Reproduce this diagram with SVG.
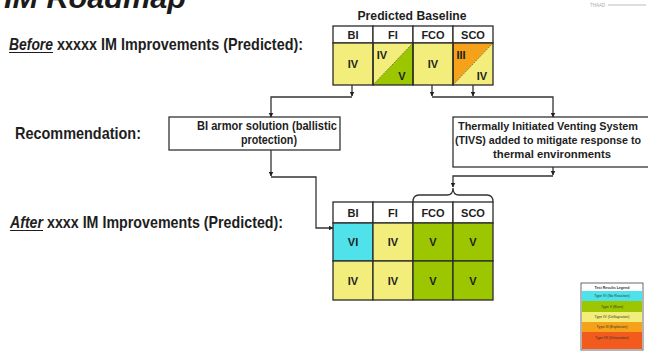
<svg xmlns="http://www.w3.org/2000/svg" width="648" height="354" viewBox="0 0 648 354">
<defs>
<marker id="ah" viewBox="0 0 10 10" refX="9" refY="5" markerWidth="5" markerHeight="5" orient="auto" markerUnits="userSpaceOnUse">
<path d="M0,0 L10,5 L0,10 z" fill="#222"/>
</marker>
<style>
.t{font-family:"Liberation Sans",Arial,sans-serif;font-weight:bold;fill:#1e1e1e}
.lbl{font-size:16.5px}
.c{font-size:11px;text-anchor:middle}
.bx{font-size:12.5px;text-anchor:middle}
.bs{font-size:10.8px;text-anchor:middle}
.cell{stroke:#2a2a2a;stroke-width:1.3}
.hdr{fill:#ffffff}
.y{fill:#F3EE7C}
.g{fill:#9CC700}
.cy{fill:#4FE2EA}
.o{fill:#F5A11A}
.box{fill:#fff;stroke:#333;stroke-width:1.3}
.ln{fill:none;stroke:#333;stroke-width:1.3}
.lg{font-family:"Liberation Sans",Arial,sans-serif;font-size:3.6px;text-anchor:middle;fill:#333}
</style>
</defs>
<rect width="648" height="354" fill="#fff"/>

<text x="4" y="8" font-family="Liberation Sans,Arial,sans-serif" font-size="30" font-weight="bold" font-style="italic" fill="#1a1a1a" textLength="182" lengthAdjust="spacingAndGlyphs">IM Roadmap</text>
<text x="590" y="7" font-family="Liberation Sans,Arial,sans-serif" font-size="4.5" fill="#aaa">THAAD</text>
<rect x="608" y="4" width="38" height="2" fill="#ddd"/>

<g id="label-before">
<text class="t lbl" x="9" y="50" font-style="italic" textLength="44" lengthAdjust="spacingAndGlyphs">Before</text>
<line x1="9" y1="52.5" x2="53" y2="52.5" stroke="#1e1e1e" stroke-width="1.2"/>
<text class="t lbl" x="57" y="50" textLength="246" lengthAdjust="spacingAndGlyphs">xxxxx IM Improvements (Predicted):</text>
</g>
<g id="label-recommendation">
<text class="t lbl" x="15" y="139" textLength="126" lengthAdjust="spacingAndGlyphs">Recommendation:</text>
</g>
<g id="label-after">
<text class="t lbl" x="10" y="228" font-style="italic" textLength="33" lengthAdjust="spacingAndGlyphs">After</text>
<line x1="10" y1="230.5" x2="43" y2="230.5" stroke="#1e1e1e" stroke-width="1.2"/>
<text class="t lbl" x="47" y="228" textLength="236" lengthAdjust="spacingAndGlyphs">xxxx IM Improvements (Predicted):</text>
</g>

<g id="baseline-table">
<text class="t" x="412" y="20" font-size="13.5" text-anchor="middle" textLength="109" lengthAdjust="spacingAndGlyphs">Predicted Baseline</text>
<rect class="cell hdr" x="333" y="26" width="40" height="17"/>
<rect class="cell hdr" x="373" y="26" width="40" height="17"/>
<rect class="cell hdr" x="413" y="26" width="40" height="17"/>
<rect class="cell hdr" x="453" y="26" width="40" height="17"/>
<text class="t c" x="353" y="38.5">BI</text>
<text class="t c" x="393" y="38.5">FI</text>
<text class="t c" x="433" y="38.5">FCO</text>
<text class="t c" x="473" y="38.5">SCO</text>
<rect class="y" x="333" y="43" width="40" height="42"/>
<path class="y" d="M373,43 H413 L373,85 z"/>
<path class="g" d="M413,43 V85 H373 z"/>
<rect class="y" x="413" y="43" width="40" height="42"/>
<path class="o" d="M453,43 H493 L453,85 z"/>
<path class="y" d="M493,43 V85 H453 z"/>
<line x1="373" y1="85" x2="413" y2="43" stroke="#6a6a20" stroke-width="0.8" stroke-dasharray="2,1"/>
<line x1="453" y1="85" x2="493" y2="43" stroke="#6a6a20" stroke-width="0.8" stroke-dasharray="2,1"/>
<rect class="cell" fill="none" x="333" y="43" width="40" height="42"/>
<rect class="cell" fill="none" x="373" y="43" width="40" height="42"/>
<rect class="cell" fill="none" x="413" y="43" width="40" height="42"/>
<rect class="cell" fill="none" x="453" y="43" width="40" height="42"/>
<text class="t c" x="353" y="68">IV</text>
<text class="t c" x="382" y="59">IV</text>
<text class="t c" x="402" y="80">V</text>
<text class="t c" x="433" y="68">IV</text>
<text class="t c" x="461" y="59">III</text>
<text class="t c" x="482" y="80">IV</text>
</g>

<g id="bi-armor">
<rect class="box" x="169" y="117" width="171" height="33"/>
<text class="t bx" x="267" y="130" textLength="140" lengthAdjust="spacingAndGlyphs">BI armor solution (ballistic</text>
<text class="t bx" x="269" y="144" textLength="56" lengthAdjust="spacingAndGlyphs">protection)</text>
</g>

<g id="tivs">
<rect class="box" x="453" y="117" width="197" height="50"/>
<text class="t bs" x="548" y="130" textLength="180" lengthAdjust="spacingAndGlyphs">Thermally Initiated Venting System</text>
<text class="t bs" x="548" y="144" textLength="186" lengthAdjust="spacingAndGlyphs">(TIVS) added to mitigate response to</text>
<text class="t bs" x="552" y="158" textLength="118" lengthAdjust="spacingAndGlyphs">thermal environments</text>
</g>

<g id="after-table">
<rect class="cell hdr" x="333" y="202" width="40" height="21"/>
<rect class="cell hdr" x="373" y="202" width="40" height="21"/>
<rect class="cell hdr" x="413" y="202" width="40" height="21"/>
<rect class="cell hdr" x="453" y="202" width="40" height="21"/>
<text class="t c" x="353" y="217">BI</text>
<text class="t c" x="393" y="217">FI</text>
<text class="t c" x="433" y="217">FCO</text>
<text class="t c" x="473" y="217">SCO</text>
<rect class="cell cy" x="333" y="223" width="40" height="38"/>
<rect class="cell y" x="373" y="223" width="40" height="38"/>
<rect class="cell g" x="413" y="223" width="40" height="38"/>
<rect class="cell g" x="453" y="223" width="40" height="38"/>
<rect class="cell y" x="333" y="261" width="40" height="39"/>
<rect class="cell y" x="373" y="261" width="40" height="39"/>
<rect class="cell g" x="413" y="261" width="40" height="39"/>
<rect class="cell g" x="453" y="261" width="40" height="39"/>
<text class="t c" x="353" y="246">VI</text>
<text class="t c" x="393" y="246">IV</text>
<text class="t c" x="433" y="246">V</text>
<text class="t c" x="473" y="246">V</text>
<text class="t c" x="353" y="285">IV</text>
<text class="t c" x="393" y="285">IV</text>
<text class="t c" x="433" y="285">V</text>
<text class="t c" x="473" y="285">V</text>
</g>

<g id="connectors">
<line class="ln" x1="352" y1="85" x2="352" y2="96" marker-end="url(#ah)"/>
<line class="ln" x1="432" y1="85" x2="432" y2="96" marker-end="url(#ah)"/>
<line class="ln" x1="473" y1="85" x2="473" y2="96" marker-end="url(#ah)"/>
<polyline class="ln" points="352,97 271,97 271,117" marker-end="url(#ah)"/>
<polyline class="ln" points="432,97 553,97 553,117" marker-end="url(#ah)"/>
<line class="ln" x1="271" y1="150" x2="271" y2="176" marker-end="url(#ah)"/>
<polyline class="ln" points="271,177 316,177 316,228 333,228" marker-end="url(#ah)"/>
<line class="ln" x1="553" y1="167" x2="553" y2="175" marker-end="url(#ah)"/>
<polyline class="ln" points="553,176 453,176 453,187" marker-end="url(#ah)"/>
<path class="ln" d="M413,202 Q413,195 419,195 H447 Q453,195 453,188 Q453,195 459,195 H487 Q493,195 493,202"/>
</g>

<g id="legend">
<rect x="581" y="283" width="62" height="67" fill="#fff" stroke="#444" stroke-width="0.8"/>
<rect x="582" y="291" width="60" height="10" fill="#4FE2EA"/>
<rect x="582" y="301" width="60" height="11" fill="#9CC700"/>
<rect x="582" y="312" width="60" height="10" fill="#F3EE7C"/>
<rect x="582" y="322" width="60" height="10" fill="#F5A11A"/>
<rect x="582" y="332" width="60" height="17" fill="#F25A1E"/>
<text class="lg" x="612" y="289" font-weight="bold">Test Results Legend</text>
<text class="lg" x="612" y="297">Type VI (No Reaction)</text>
<text class="lg" x="612" y="308">Type V (Burn)</text>
<text class="lg" x="612" y="318">Type IV (Deflagration)</text>
<text class="lg" x="612" y="328">Type III (Explosion)</text>
<text class="lg" x="612" y="339" fill="#fff">Type I/II (Detonation)</text>
</g>
</svg>
